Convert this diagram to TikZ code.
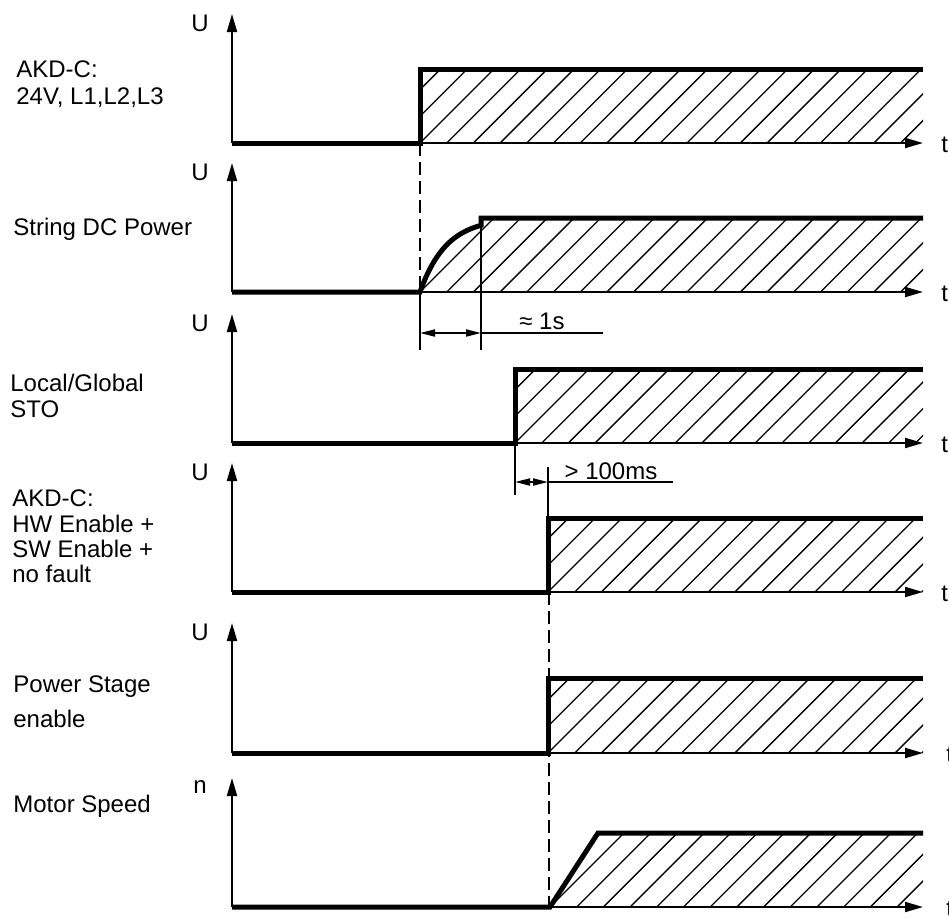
\documentclass[tikz,border=0pt]{standalone}
\usepackage{fontspec}
\setmainfont{Liberation Sans}
\usetikzlibrary{arrows.meta}
\begin{document}
\begin{tikzpicture}[x=0.5pt,y=-0.5pt,
    every node/.style={inner sep=0pt,font=\fontsize{12}{14}\selectfont},
    axis/.style={line width=1pt,-{Triangle[length=9pt,width=5pt]}},
    signal/.style={line width=2.5pt},
    hatch/.style={line width=0.65pt},
    ext/.style={line width=0.9pt},
    guide/.style={line width=0.9pt,dash pattern=on 6.5pt off 3pt},
    dim/.style={line width=0.9pt,{Triangle[length=7.5pt,width=3.5pt]}-{Triangle[length=7.5pt,width=3.5pt]}}]
  \useasboundingbox (0,0) rectangle (949,917);
  \foreach \s/\b/\h in {420/143/69, 515/443/369, 548/592/518, 548/753/678}{
    \begin{scope}
      \clip (\s,\b) rectangle (923,\h);
      \foreach \k in {-3,...,20} \draw[hatch] ({\s+26.7*\k},\b) -- ++(80,-80);
    \end{scope}
  }
  \begin{scope}
    \clip (420,292) -- plot[domain=0:61,samples=30] ({420+\x},{292-74*(1-exp(-\x/26.4))}) -- (481,218) -- (923,218) -- (923,292) -- cycle;
    \foreach \k in {-3,...,20} \draw[hatch] ({420+26.7*\k},292) -- ++(80,-80);
  \end{scope}
  \begin{scope}
    \clip (550,907) -- (598,833) -- (923,833) -- (923,907) -- cycle;
    \foreach \k in {-3,...,15} \draw[hatch] ({550+26.7*\k},907) -- ++(80,-80);
  \end{scope}
  \draw[guide] (420,143) -- (420,292);
  \draw[guide] (549,592) -- (549,907);
  \foreach \b/\h/\lab/\tx/\nm in {143/69/U/941/a, 292/218/U/941/b, 443/369/U/941/c, 592/518/U/941/d, 753/678/U/946/e, 907/833/n/946/f}{
    \draw[axis] (232,\b) -- (923,\b);
    \draw[axis] (232,\b) -- (232,\h-55);
    \node (u\nm) at (200,\h-46) {\lab};
    \node[anchor=west] (t\nm) at (\tx,\b+2) {t};
  }
  \draw[signal] (232,143) -- (420,143) -- (420,69) -- (923,69);
  \draw[signal] (232,292) -- (420,292) -- plot[domain=0:61,samples=30] ({420+\x},{292-74*(1-exp(-\x/26.4))}) -- (481,218) -- (923,218);
  \draw[signal] (232,443) -- (515,443) -- (515,369) -- (923,369);
  \draw[signal] (232,592) -- (548,592) -- (548,518) -- (923,518);
  \draw[signal] (232,753) -- (548,753) -- (548,678) -- (923,678);
  \draw[signal] (232,907) -- (550,907) -- (598,833) -- (923,833);
  \draw[ext] (420,292) -- (420,350);
  \draw[ext] (481,218) -- (481,350);
  \draw[dim] (420,333) -- (481,333);
  \draw[ext] (481,333) -- (603,333);
  \node[anchor=base] (dsec) at (542,329) {≈ 1s};
  \draw[ext] (515,443) -- (515,495);
  \draw[ext] (548,467) -- (548,518);
  \draw[dim] (515,482) -- (548,482);
  \draw[ext] (548,482) -- (673,482);
  \node[anchor=base] (dms) at (611,479) {> 100ms};
  \node[anchor=base west] (akd) at (16,77) {AKD-C:};
  \node[anchor=base west] (supply) at (16,104) {24V, L1,L2,L3};
  \node[anchor=base west] (dcpow) at (13,235) {String DC Power};
  \node[anchor=base west] (sto) at (10,391) {Local/Global};
  \node[anchor=base west] (stob) at (10,417) {STO};
  \node[anchor=base west] (hwakd) at (12,506) {AKD-C:};
  \node[anchor=base west] (hwen) at (12,532) {HW Enable +};
  \node[anchor=base west] (swen) at (12,557) {SW Enable +};
  \node[anchor=base west] (nofault) at (12,582) {no fault};
  \node[anchor=base west] (pstage) at (13,692) {Power Stage};
  \node[anchor=base west] (pstageb) at (13,727) {enable};
  \node[anchor=base west] (speed) at (13,812) {Motor Speed};
\end{tikzpicture}
\end{document}
